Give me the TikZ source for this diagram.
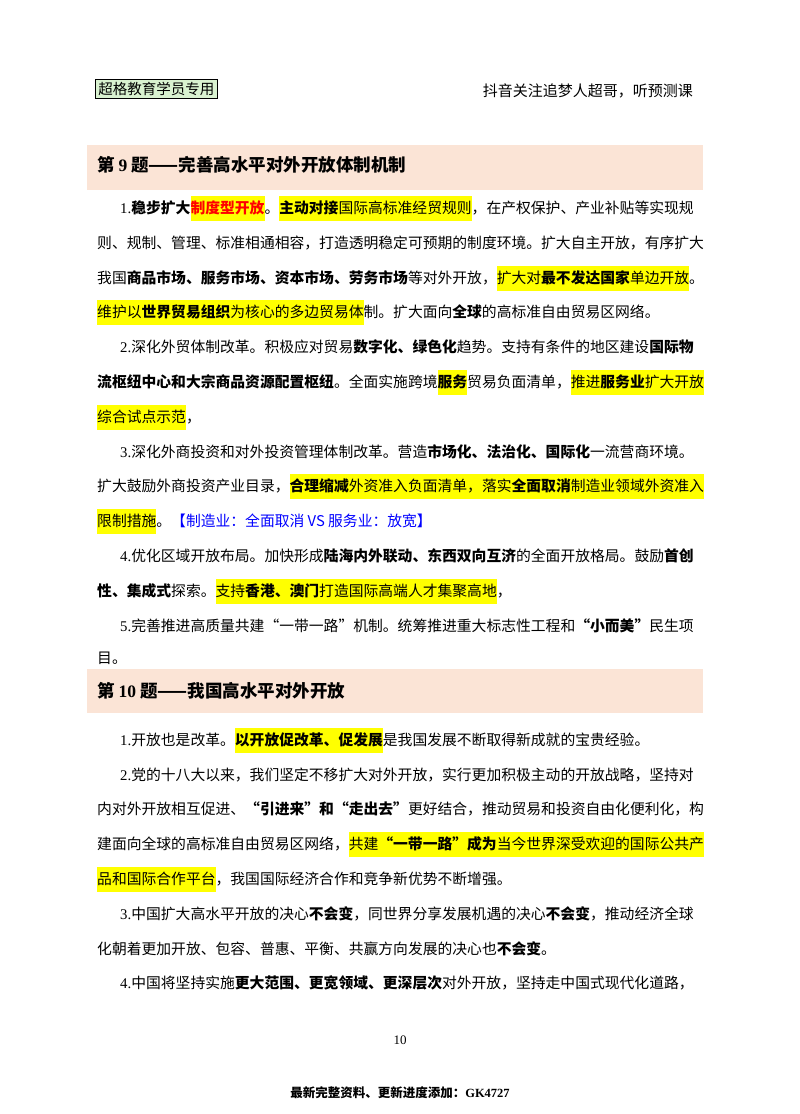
\documentclass[tikz,border=0pt]{standalone}
\usepackage{fontspec}
\setmainfont{Noto Sans CJK SC}
\newfontfamily\serifnum{Liberation Serif}
\XeTeXlinebreaklocale "zh"
\XeTeXlinebreakskip=0pt plus 2pt minus 0.6pt
\definecolor{hly}{HTML}{FFFF00}
\definecolor{band}{HTML}{FBE4D6}
\definecolor{tagg}{HTML}{D9F2D0}
\newcommand{\hlx}[1]{{\setlength{\fboxsep}{0pt}\colorbox{hly}{\vrule height 17pt depth 8pt width 0pt #1}}}
\newcommand{\full}[1]{\makebox[606pt][s]{#1}}
\newcommand{\fulli}[1]{\makebox[583pt][s]{#1}}
\begin{document}
\begin{tikzpicture}[x=1pt,y=-1pt,
  txt/.style={anchor=base west,inner sep=0pt,font=\fontsize{14.8}{15}\selectfont},
  ttl/.style={anchor=west,inner sep=0pt,font=\fontsize{17.5}{18}\selectfont\bfseries}]
\useasboundingbox (0,0) rectangle (800,1114);
\fill[white] (0,0) rectangle (800,1114);
% header
\node[draw=black,fill=tagg,line width=0.8pt,inner sep=3pt,anchor=west,font=\fontsize{14.5}{15}\selectfont] (tag) at (95,89) {超格教育学员专用};
\node[anchor=east,inner sep=0pt,font=\fontsize{15}{15}\selectfont] (rh) at (693,91) {抖音关注追梦人超哥，听预测课};
% title 9
\fill[band] (87,145) rectangle (703,190);
\node[ttl] (t9) at (97,165) {第 {\serifnum 9} 题——完善高水平对外开放体制机制};
% Q9
\node[txt] (a1) at (120,213) {\fulli{{\serifnum 1.}\textbf{稳步扩大}\hlx{\textcolor{red}{\textbf{制度型开放}}}。\hlx{\textbf{主动对接}国际高标准经贸规则}，在产权保护、产业补贴等实现规}};
\node[txt] (a2) at (97,248) {\full{则、规制、管理、标准相通相容，打造透明稳定可预期的制度环境。扩大自主开放，有序扩大}};
\node[txt] (a3) at (97,283) {\full{我国\textbf{商品市场、服务市场、资本市场、劳务市场}等对外开放，\hlx{扩大对\textbf{最不发达国家}单边开放}。}};
\node[txt] (a4) at (97,317) {\hlx{维护以\textbf{世界贸易组织}为核心的多边贸易体}制。扩大面向\textbf{全球}的高标准自由贸易区网络。};
\node[txt] (b1) at (120,352) {\fulli{{\serifnum 2.}深化外贸体制改革。积极应对贸易\textbf{数字化、绿色化}趋势。支持有条件的地区建设\textbf{国际物}}};
\node[txt] (b2) at (97,387) {\full{\textbf{流枢纽中心和大宗商品资源配置枢纽}。全面实施跨境\hlx{\textbf{服务}}贸易负面清单，\hlx{推进\textbf{服务业}扩大开放}}};
\node[txt] (b3) at (97,422) {\hlx{综合试点示范}，};
\node[txt] (c1) at (120,457) {\fulli{{\serifnum 3.}深化外商投资和对外投资管理体制改革。营造\textbf{市场化、法治化、国际化}一流营商环境。}};
\node[txt] (c2) at (97,491) {\full{扩大鼓励外商投资产业目录，\hlx{\textbf{合理缩减}外资准入负面清单，落实\textbf{全面取消}制造业领域外资准入}}};
\node[txt] (c3) at (97,526) {\hlx{限制措施}。\textcolor{blue}{【制造业：全面取消 VS 服务业：放宽】}};
\node[txt] (d1) at (120,561) {\fulli{{\serifnum 4.}优化区域开放布局。加快形成\textbf{陆海内外联动、东西双向互济}的全面开放格局。鼓励\textbf{首创}}};
\node[txt] (d2) at (97,596) {\textbf{性、集成式}探索。\hlx{支持\textbf{香港、澳门}打造国际高端人才集聚高地}，};
\node[txt] (e1) at (120,631) {\fulli{{\serifnum 5.}完善推进高质量共建“一带一路”机制。统筹推进重大标志性工程和\textbf{“小而美”}民生项}};
\node[txt] (e2) at (97,663) {目。};
% title 10
\fill[band] (87,669) rectangle (703,713);
\node[ttl] (t10) at (97,691) {第 {\serifnum 10} 题——我国高水平对外开放};
% Q10
\node[txt] (f1) at (120,745) {{\serifnum 1.}开放也是改革。\hlx{\textbf{以开放促改革、促发展}}是我国发展不断取得新成就的宝贵经验。};
\node[txt] (g1) at (120,780) {\fulli{{\serifnum 2.}党的十八大以来，我们坚定不移扩大对外开放，实行更加积极主动的开放战略，坚持对}};
\node[txt] (g2) at (97,814) {\full{内对外开放相互促进、\textbf{“引进来”和“走出去”}更好结合，推动贸易和投资自由化便利化，构}};
\node[txt] (g3) at (97,849) {\full{建面向全球的高标准自由贸易区网络，\hlx{共建\textbf{“一带一路”成为}当今世界深受欢迎的国际公共产}}};
\node[txt] (g4) at (97,884) {\hlx{品和国际合作平台}，我国国际经济合作和竞争新优势不断增强。};
\node[txt] (h1) at (120,919) {\fulli{{\serifnum 3.}中国扩大高水平开放的决心\textbf{不会变}，同世界分享发展机遇的决心\textbf{不会变}，推动经济全球}};
\node[txt] (h2) at (97,954) {化朝着更加开放、包容、普惠、平衡、共赢方向发展的决心也\textbf{不会变}。};
\node[txt] (i1) at (120,988) {\fulli{{\serifnum 4.}中国将坚持实施\textbf{更大范围、更宽领域、更深层次}对外开放，坚持走中国式现代化道路，}};
% footer
\node[inner sep=0pt,font=\fontsize{13}{14}\selectfont\serifnum] (pn) at (400,1040) {10};
\node[inner sep=0pt,font=\fontsize{12.5}{13}\selectfont\bfseries] (ft) at (400,1093) {最新完整资料、更新进度添加：{\serifnum GK4727}};
\end{tikzpicture}
\end{document}
